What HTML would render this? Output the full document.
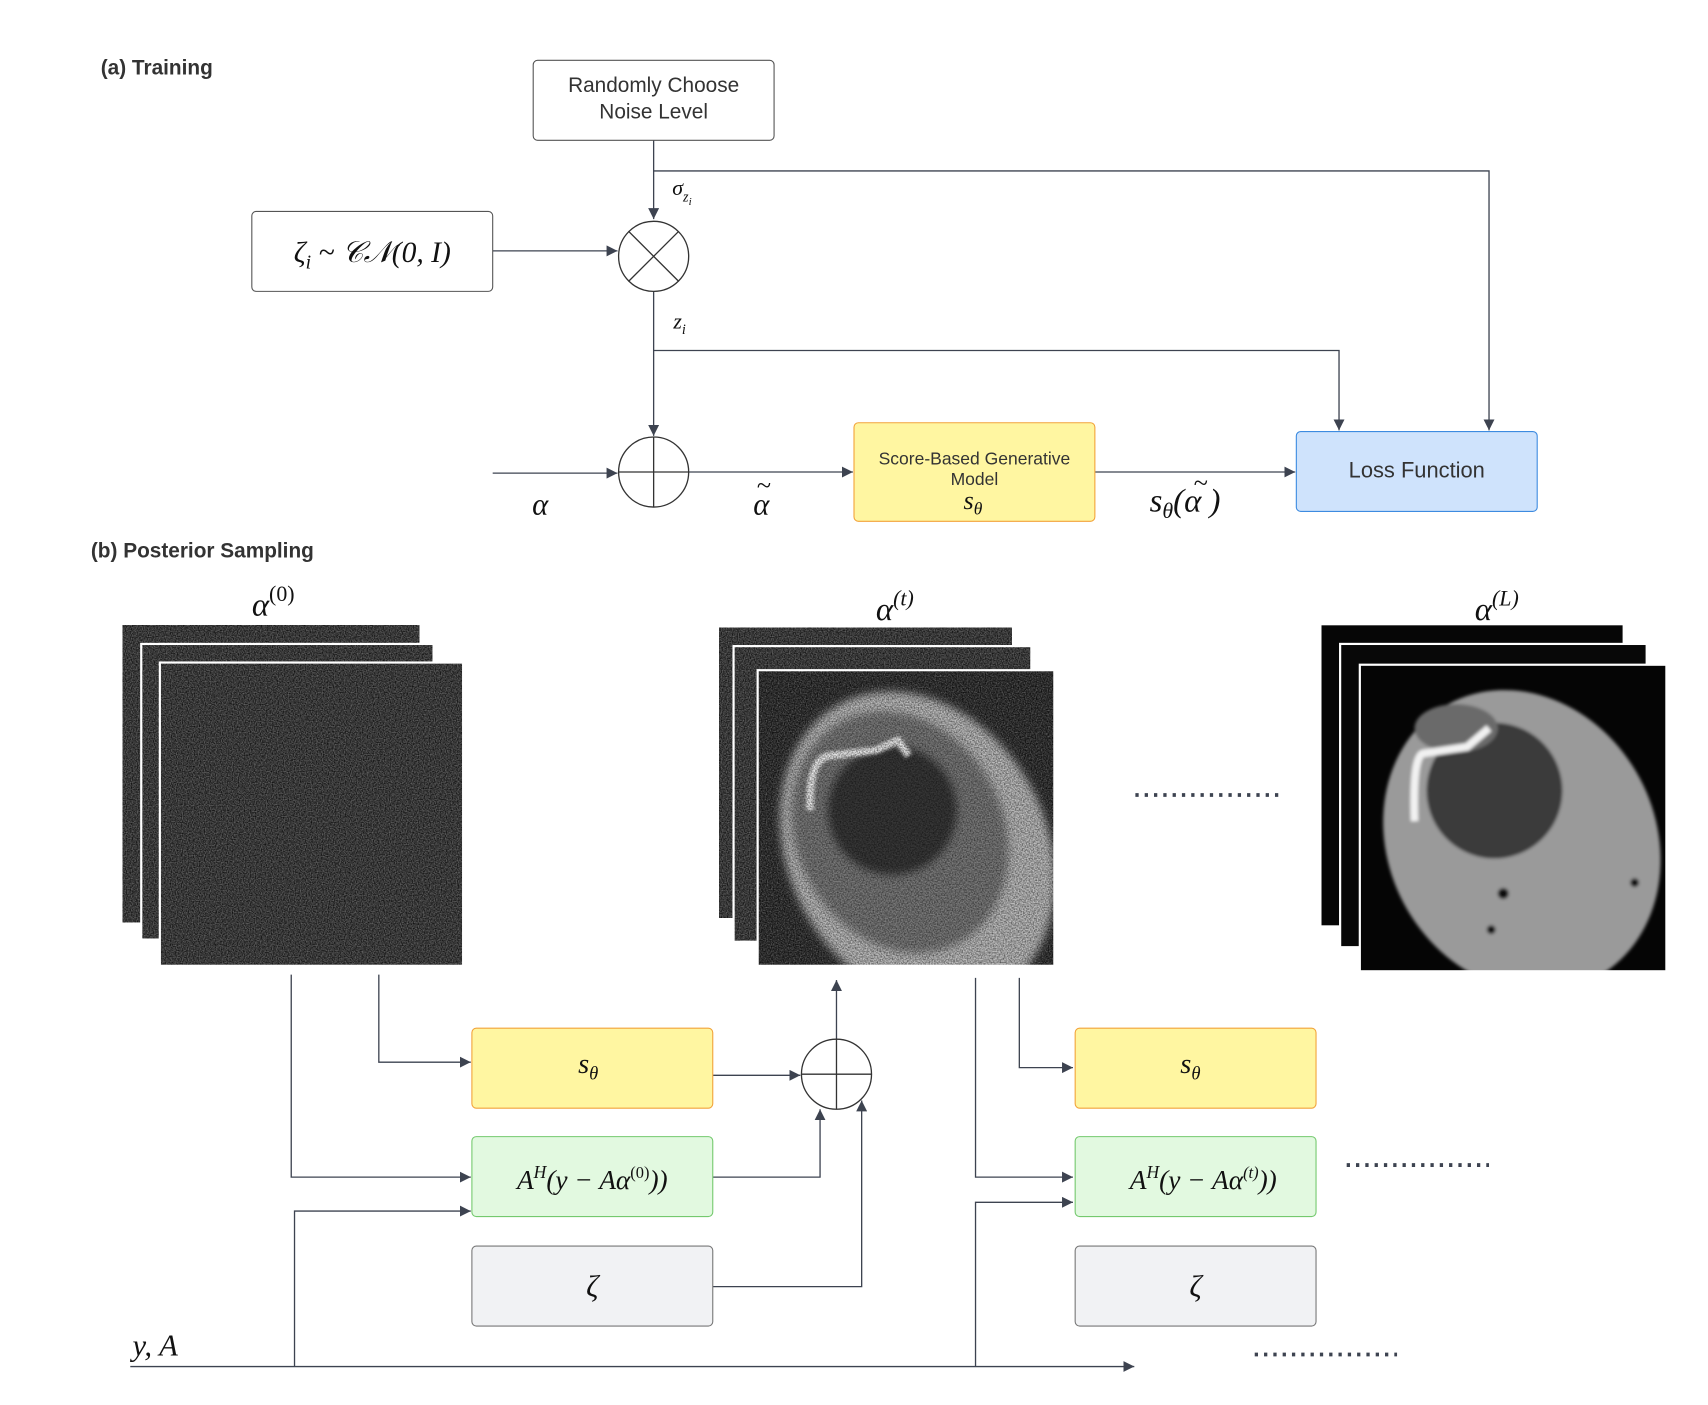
<!DOCTYPE html>
<html><head><meta charset="utf-8"><style>
html,body{margin:0;padding:0;background:#fff;width:1708px;height:1405px;overflow:hidden}
svg{display:block}
.s{font-family:"Liberation Sans",sans-serif;fill:#333}
.m{font-family:"Liberation Serif",serif;font-style:italic;fill:#111}
</style></head><body>
<svg width="1708" height="1405" viewBox="0 0 1560 1283" xmlns="http://www.w3.org/2000/svg">
<defs>
<marker id="ar" viewBox="0 0 10 10" refX="10" refY="5" markerWidth="10" markerHeight="10" markerUnits="userSpaceOnUse" orient="auto"><path d="M0,0 L10,5 L0,10 z" fill="#3d4350"/></marker>
<filter id="nz" x="0" y="0" width="1" height="1" color-interpolation-filters="sRGB"><feTurbulence type="fractalNoise" baseFrequency="0.9" numOctaves="1" seed="3"/><feColorMatrix type="matrix" values="0.6 0 0 0 -0.08  0.6 0 0 0 -0.08  0.6 0 0 0 -0.08  0 0 0 0 1"/></filter>
<filter id="nz2" x="0" y="0" width="1" height="1" color-interpolation-filters="sRGB"><feTurbulence type="fractalNoise" baseFrequency="0.8" numOctaves="1" seed="7"/><feColorMatrix type="matrix" values="0 0 0 0 0  0 0 0 0 0  0 0 0 0 0  1.2 0 0 0 -0.4"/></filter>
<filter id="bl"><feGaussianBlur stdDeviation="4"/></filter>
<filter id="bl2"><feGaussianBlur stdDeviation="1.5"/></filter>
<clipPath id="ct"><rect x="692" y="612" width="271" height="270"/></clipPath>
<clipPath id="cl"><rect x="1242" y="607" width="280" height="280"/></clipPath>
</defs>
<g fill="none" stroke="#3d4350" stroke-width="1.2">
<path d="M597,128 V200" marker-end="url(#ar)"/>
<path d="M597,156 H1360 V393" marker-end="url(#ar)"/>
<path d="M450,229 H564" marker-end="url(#ar)"/>
<path d="M597,266 V398" marker-end="url(#ar)"/>
<path d="M597,320 H1223 V393" marker-end="url(#ar)"/>
<path d="M450,432 H564" marker-end="url(#ar)"/>
<path d="M629,431 H779" marker-end="url(#ar)"/>
<path d="M1000,431 H1183" marker-end="url(#ar)"/>
<path d="M266,890 V1075 H430" marker-end="url(#ar)"/>
<path d="M346,890 V970 H430" marker-end="url(#ar)"/>
<path d="M651,982 H731" marker-end="url(#ar)"/>
<path d="M651,1075 H749 V1013" marker-end="url(#ar)"/>
<path d="M651,1175 H787 V1005" marker-end="url(#ar)"/>
<path d="M764,949 V895" marker-end="url(#ar)"/>
<path d="M119,1248 H1036" marker-end="url(#ar)"/>
<path d="M269,1248 V1106 H430" marker-end="url(#ar)"/>
<path d="M891,1248 V1098 H980" marker-end="url(#ar)"/>
<path d="M891,893 V1075 H980" marker-end="url(#ar)"/>
<path d="M931,893 V975 H980" marker-end="url(#ar)"/>
</g>
<text class="s" x="92" y="68" font-size="19" font-weight="bold">(a) Training</text>
<text class="s" x="83" y="509" font-size="19" font-weight="bold">(b) Posterior Sampling</text>
<rect x="487" y="55" width="220" height="73" rx="4" fill="#fff" stroke="#555"/>
<text class="s" x="597" y="84" font-size="19" text-anchor="middle">Randomly Choose</text>
<text class="s" x="597" y="108" font-size="19" text-anchor="middle">Noise Level</text>
<rect x="230" y="193" width="220" height="73" rx="4" fill="#fff" stroke="#555"/>
<text class="m" x="340" y="239" font-size="27" text-anchor="middle">ζ<tspan font-size="18" dy="6">i</tspan><tspan dy="-6"> ~ 𝒞𝒩(0, I)</tspan></text>
<g fill="#fff" stroke="#333" stroke-width="1.2">
<circle cx="597" cy="234" r="32"/>
<path d="M574,211 L620,257 M620,211 L574,257"/>
<circle cx="597" cy="431" r="32"/>
<path d="M565,431 H629 M597,399 V463"/>
<circle cx="764" cy="981" r="32"/>
<path d="M732,981 H796 M764,949 V1013"/>
</g>
<text class="m" x="614" y="178" font-size="20">σ<tspan font-size="13" dy="6">z</tspan><tspan font-size="10" dy="3">i</tspan></text>
<text class="m" x="615" y="300" font-size="20">z<tspan font-size="13" dy="5">i</tspan></text>
<text class="m" x="486" y="470" font-size="28">α</text>
<text class="m" x="688" y="470" font-size="28">α</text>
<text class="m" x="691" y="451" font-size="24">~</text>
<rect x="780" y="386" width="220" height="90" rx="4" fill="#fff6a1" stroke="#f2a33a"/>
<text class="s" x="890" y="424" font-size="16" text-anchor="middle">Score-Based Generative</text>
<text class="s" x="890" y="443" font-size="16" text-anchor="middle">Model</text>
<text class="m" x="880" y="465" font-size="24">s<tspan font-size="16" dy="5">θ</tspan></text>
<text class="m" x="1050" y="467" font-size="30">s<tspan font-size="20" dy="6">θ</tspan><tspan dy="-6">(α  )</tspan></text>
<text class="m" x="1090" y="449" font-size="24">~</text>
<rect x="1184" y="394" width="220" height="73" rx="4" fill="#cfe3fc" stroke="#3d8be0"/>
<text class="s" x="1294" y="436" font-size="20" text-anchor="middle">Loss Function</text>
<text class="m" x="230" y="562" font-size="30">α<tspan font-size="20" dy="-13" font-style="normal">(0)</tspan></text>
<text class="m" x="800" y="566" font-size="30">α<tspan font-size="20" dy="-13">(t)</tspan></text>
<text class="m" x="1347" y="566" font-size="30">α<tspan font-size="20" dy="-13">(L)</tspan></text>
<rect x="112" y="571" width="271" height="271" filter="url(#nz)"/>
<rect x="129" y="588" width="267" height="270" filter="url(#nz)"/>
<rect x="129" y="588" width="267" height="270" fill="none" stroke="#fff" stroke-width="2"/>
<rect x="146" y="605" width="277" height="277" filter="url(#nz)"/>
<rect x="146" y="605" width="277" height="277" fill="none" stroke="#fff" stroke-width="2"/>
<rect x="657" y="573" width="267" height="265" filter="url(#nz)"/>
<rect x="670" y="590" width="272" height="270" filter="url(#nz)"/>
<rect x="670" y="590" width="272" height="270" fill="none" stroke="#fff" stroke-width="2"/>
<rect x="692" y="612" width="271" height="270" filter="url(#nz)"/>
<g clip-path="url(#ct)">
<g filter="url(#bl)">
<ellipse cx="838" cy="775" rx="118" ry="150" transform="rotate(-28 838 775)" fill="#bdbdbd"/>
<ellipse cx="822" cy="760" rx="95" ry="115" transform="rotate(-28 822 760)" fill="#7a7a7a"/>
<ellipse cx="815" cy="740" rx="60" ry="60" fill="#383838"/>
</g>
<path d="M740,740 Q738,690 760,690 L800,685 L820,676 L830,690" stroke="#eee" stroke-width="7" fill="none" filter="url(#bl2)"/>
<rect x="692" y="612" width="271" height="270" filter="url(#nz2)"/>
</g>
<rect x="692" y="612" width="271" height="270" fill="none" stroke="#fff" stroke-width="2"/>
<rect x="1207" y="571" width="275" height="274" fill="#060606"/>
<rect x="1224" y="588" width="280" height="277" fill="#080808" stroke="#fff" stroke-width="2"/>
<rect x="1242" y="607" width="280" height="280" fill="#050505"/>
<g clip-path="url(#cl)">
<g filter="url(#bl2)">
<ellipse cx="1390" cy="768" rx="122" ry="142" transform="rotate(-28 1390 768)" fill="#9a9a9a"/>
<ellipse cx="1365" cy="722" rx="62" ry="62" transform="rotate(-20 1365 722)" fill="#3a3a3a"/>
<ellipse cx="1330" cy="665" rx="38" ry="22" fill="#6a6a6a"/>
<path d="M1292,750 Q1290,690 1300,688 L1340,682 L1360,665" stroke="#f2f2f2" stroke-width="7" fill="none"/>
<circle cx="1373" cy="816" r="5" fill="#111"/><circle cx="1362" cy="849" r="4" fill="#111"/><circle cx="1493" cy="806" r="4" fill="#111"/>
</g>
</g>
<rect x="1242" y="607" width="280" height="280" fill="none" stroke="#fff" stroke-width="2"/>
<rect x="431" y="939" width="220" height="73" rx="4" fill="#fff6a1" stroke="#f2a33a"/>
<text class="m" x="528" y="980" font-size="26">s<tspan font-size="17" dy="6">θ</tspan></text>
<rect x="431" y="1038" width="220" height="73" rx="4" fill="#e2f9e0" stroke="#74c96e"/>
<text class="m" x="541" y="1086" font-size="25" text-anchor="middle">A<tspan font-size="16" dy="-10">H</tspan><tspan dy="10">(y − Aα</tspan><tspan font-size="15" dy="-10" font-style="normal">(0)</tspan><tspan dy="10">))</tspan></text>
<rect x="431" y="1138" width="220" height="73" rx="4" fill="#f1f2f4" stroke="#777"/>
<text class="m" x="541" y="1184" font-size="28" text-anchor="middle">ζ</text>
<rect x="982" y="939" width="220" height="73" rx="4" fill="#fff6a1" stroke="#f2a33a"/>
<text class="m" x="1078" y="980" font-size="26">s<tspan font-size="17" dy="6">θ</tspan></text>
<rect x="982" y="1038" width="220" height="73" rx="4" fill="#e2f9e0" stroke="#74c96e"/>
<text class="m" x="1099" y="1086" font-size="25" text-anchor="middle">A<tspan font-size="16" dy="-10">H</tspan><tspan dy="10">(y − Aα</tspan><tspan font-size="15" dy="-10">(t)</tspan><tspan dy="10">))</tspan></text>
<rect x="982" y="1138" width="220" height="73" rx="4" fill="#f1f2f4" stroke="#777"/>
<text class="m" x="1092" y="1184" font-size="28" text-anchor="middle">ζ</text>
<text class="m" x="121" y="1238" font-size="28">y, A</text>
<g stroke="#3d4350" stroke-width="3.5" stroke-dasharray="3,5.5">
<path d="M1037,726 H1168"/><path d="M1230,1064 H1360"/><path d="M1146,1237 H1276"/>
</g>
</svg>
</body></html>
